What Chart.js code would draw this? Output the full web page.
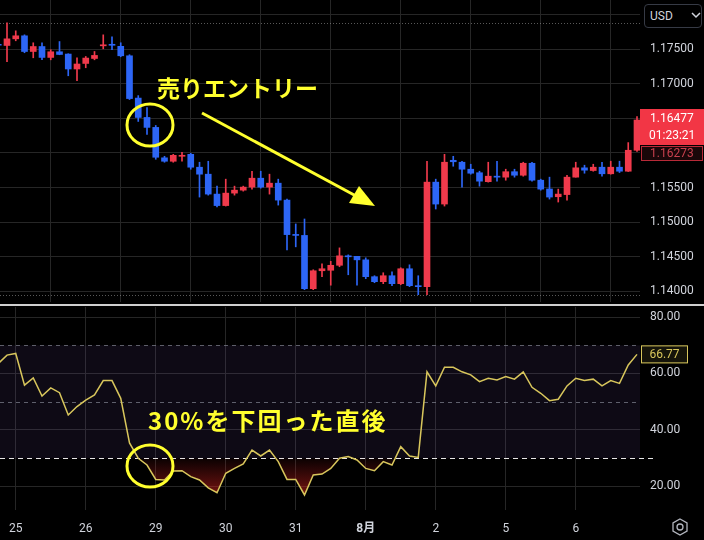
<!DOCTYPE html>
<html>
<head>
<meta charset="utf-8">
<script src="https://cdn.jsdelivr.net/npm/chart.js@4.4.0/dist/chart.umd.min.js"></script>
<style>
html,body{margin:0;padding:0;background:#000;width:704px;height:540px;overflow:hidden}
#wrap{position:relative;width:704px;height:540px;background:#000}
#pc{position:absolute;left:0;top:0}
#rc{position:absolute;left:0;top:307px}
#sep{position:absolute;left:0;top:304px;width:704px;height:2px;background:#cfcfcf}
.note{position:absolute;color:#ffff2e;font-family:"Noto Sans CJK JP";font-weight:bold;white-space:nowrap}
#usd{position:absolute;left:644px;top:4px;width:58px;height:24px;box-sizing:border-box;border:1px solid #363a45;border-radius:4px;background:#000;
  color:#d1d4dc;font:12px Roboto,"Noto Sans",sans-serif;line-height:22px;padding-left:5px}
#ov{position:absolute;left:0;top:0;pointer-events:none}
</style>
</head>
<body>
<div id="wrap">
  <canvas id="pc" width="704" height="302"></canvas>
  <div id="sep"></div>
  <canvas id="rc" width="704" height="233"></canvas>
  <div id="usd">USD</div>
  <div class="note" style="left:157px;top:76px;font-size:23px;line-height:23px">売りエントリー</div>
  <div class="note" style="left:148px;top:408px;font-size:24px;line-height:24px;letter-spacing:2px">30%を下回った直後</div>
  <svg id="ov" width="704" height="540">
    <ellipse cx="150" cy="125" rx="23" ry="21" fill="none" stroke="#ffff2e" stroke-width="3"/>
    <ellipse cx="150" cy="466" rx="23" ry="21" fill="none" stroke="#ffff2e" stroke-width="3"/>
    <line x1="202" y1="113" x2="356" y2="196" stroke="#ffff2e" stroke-width="3"/>
    <polygon points="375,206 349,203 359,186" fill="#ffff2e"/>
    <path d="M692 13 l4 4 l4 -4" fill="none" stroke="#d1d4dc" stroke-width="1.5"/>
    <polygon points="680,519 687,523 687,531 680,535 673,531 673,523" fill="none" stroke="#b2b5be" stroke-width="1.3"/>
    <circle cx="680" cy="527" r="3" fill="none" stroke="#b2b5be" stroke-width="1.3"/>
  </svg>
</div>
<script>
/* EUR/USD 3h candles + RSI */

// day boundaries (bar x index) and their labels
var dayStart=[1,9,17,25,33,41,49,57,65];
var dayLabels=['25','26','29','30','31','8月','2','5','6'];

// first entry is the half-visible bar on the left edge (x = -1)
var openP=[1.17572,
  1.17555,1.17651,1.17695,1.17468,1.17540,1.17382,1.17464,1.17431,1.17215,1.17295,
  1.17367,1.17550,1.17572,1.17543,1.17406,1.16794,1.16514,1.16370,1.15930,1.15880,
  1.15952,1.15980,1.15794,1.15693,1.15405,1.15239,1.15419,1.15462,1.15506,1.15635,
  1.15506,1.15563,1.15318,1.14822,1.14807,1.14037,1.14296,1.14303,1.14375,1.14512,
  1.14505,1.14454,1.14210,1.14138,1.14224,1.14109,1.14325,1.14080,1.14066,1.15578,
  1.15261,1.15894,1.15866,1.15765,1.15714,1.15585,1.15664,1.15650,1.15729,1.15678,
  1.15851,1.15606,1.15479,1.15367,1.15398,1.15650,1.15785,1.15746,1.15794,1.15699,
  1.15794,1.15736,1.16039];
var highP=[1.17600,
  1.17882,1.17767,1.17709,1.17594,1.17594,1.17493,1.17612,1.17435,1.17377,1.17396,
  1.17468,1.17709,1.17680,1.17594,1.17421,1.16830,1.16658,1.16398,1.15952,1.15980,
  1.16010,1.15995,1.15866,1.15880,1.15520,1.15621,1.15520,1.15520,1.15736,1.15736,
  1.15693,1.15621,1.15333,1.14973,1.15045,1.14310,1.14397,1.14433,1.14627,1.14526,
  1.14505,1.14483,1.14224,1.14267,1.14282,1.14339,1.14382,1.14224,1.15880,1.15621,
  1.15980,1.15952,1.15880,1.15837,1.15736,1.15866,1.15880,1.15765,1.15765,1.15866,
  1.15866,1.15621,1.15650,1.15477,1.15678,1.15866,1.15823,1.15837,1.15866,1.15881,
  1.15881,1.16150,1.16526];
var lowP=[1.17530,
  1.17320,1.17623,1.17450,1.17377,1.17348,1.17348,1.17421,1.17117,1.17046,1.17233,
  1.17348,1.17507,1.17493,1.17392,1.16773,1.16456,1.16269,1.15909,1.15866,1.15866,
  1.15880,1.15765,1.15362,1.15390,1.15218,1.15232,1.15390,1.15448,1.15477,1.15491,
  1.15405,1.15246,1.14598,1.14642,1.14022,1.14022,1.14210,1.14087,1.14354,1.14238,
  1.14087,1.14181,1.14123,1.14109,1.14080,1.14094,1.14066,1.13950,1.13950,1.15189,
  1.15232,1.15808,1.15506,1.15693,1.15520,1.15578,1.15592,1.15606,1.15650,1.15664,
  1.15592,1.15462,1.15333,1.15290,1.15318,1.15650,1.15707,1.15736,1.15664,1.15693,
  1.15717,1.15732,1.16021];
var closeP=[1.17558,
  1.17651,1.17695,1.17468,1.17540,1.17382,1.17464,1.17425,1.17215,1.17287,1.17373,
  1.17411,1.17565,1.17558,1.17406,1.16787,1.16514,1.16370,1.15938,1.15880,1.15966,
  1.15966,1.15794,1.15693,1.15405,1.15239,1.15419,1.15462,1.15506,1.15635,1.15506,
  1.15563,1.15318,1.14819,1.14807,1.14037,1.14296,1.14325,1.14375,1.14512,1.14498,
  1.14454,1.14210,1.14138,1.14224,1.14109,1.14325,1.14080,1.14066,1.15578,1.15261,
  1.15866,1.15873,1.15765,1.15707,1.15592,1.15664,1.15650,1.15729,1.15678,1.15851,
  1.15606,1.15477,1.15362,1.15405,1.15650,1.15785,1.15751,1.15794,1.15699,1.15794,
  1.15736,1.16039,1.16477];

var rsiVals=[63.5,
  66.5,67.1,55.9,58.4,52.0,54.9,53.2,45.3,48.3,50.6,
  52.4,57.5,57.5,51.2,35.4,30.0,27.6,22.5,22.3,25.5,
  25.6,23.5,22.3,19.5,17.8,24.7,26.4,28.0,32.9,30.8,
  32.9,28.8,22.5,22.5,17.0,24.1,24.4,26.4,30.0,30.6,
  29.4,26.4,25.6,28.8,27.6,34.1,30.8,30.3,60.6,55.6,
  62.2,62.2,60.6,59.5,57.1,58.3,57.7,58.9,58.0,60.6,
  55.1,53.0,50.4,50.9,55.6,58.3,57.5,58.0,55.6,57.5,
  56.5,63.0,66.77];

var priceTicks=[1.14,1.145,1.15,1.155,1.16,1.165,1.17,1.175,1.18];
var rsiTicks=[20,40,60,80];
var rsiLevels=[70,50,30];
var countdown='01:23:21';
var prevPrice=1.16273;

var UP='#f03a4c',DOWN='#2d66f6',RSI_COL='#d8c65c';
var GRID='#262626',TXT='#d1d4dc';
var FONT='Roboto, "Noto Sans CJK JP", sans-serif';

var wickData=[],bodyData=[],barCols=[],rsiData=[];
for(var i=0;i<openP.length;i++){
  wickData.push({x:i-1,y:[lowP[i],highP[i]]});
  bodyData.push({x:i-1,y:[openP[i],closeP[i]]});
  barCols.push(closeP[i]>=openP[i]?UP:DOWN);
  rsiData.push({x:i-1,y:rsiVals[i]});
}

// drop the label padding chart.js reserves so the panes fill the canvas
function noPad(s){s.paddingTop=0;s.paddingBottom=0;s.paddingLeft=0;s.paddingRight=0}

function xScale(showTicks){
  return {
    type:'linear',min:-0.8,max:72.343,offset:false,
    afterBuildTicks:function(s){s.ticks=dayStart.map(function(v){return{value:v}})},
    ticks:{display:showTicks,autoSkip:false,maxRotation:0,color:TXT,padding:12,
      font:function(c){return{family:FONT,size:12,weight:(c.tick&&c.tick.label==='8月')?'bold':'normal'}},
      callback:function(v){var k=dayStart.indexOf(v);return k<0?'':dayLabels[k]}},
    grid:{color:GRID,drawTicks:false},
    border:{display:false},
    afterFit:function(s){s.height=showTicks?30:0;noPad(s)}
  };
}

function yScale(min,max,ticks,fmt){
  return {
    position:'right',min:min,max:max,
    afterBuildTicks:function(s){s.ticks=ticks.map(function(v){return{value:v}})},
    ticks:{color:TXT,padding:10,font:{family:FONT,size:12},callback:fmt},
    grid:{color:GRID,drawTicks:false},
    border:{display:false},
    afterFit:function(s){s.width=64;noPad(s)}
  };
}

/* price panel extras: range lines + last price labels */
var pricePlugin={
  id:'priceExtras',
  beforeDatasetsDraw:function(ch){
    var c=ch.ctx,a=ch.chartArea,y=ch.scales.y;
    var hi=Math.max.apply(null,highP),lo=Math.min.apply(null,lowP);
    c.save();
    c.strokeStyle='rgba(160,160,160,0.55)';c.lineWidth=1;c.setLineDash([1,2]);
    [hi,lo].forEach(function(v){
      var py=Math.round(y.getPixelForValue(v))+0.5;
      c.beginPath();c.moveTo(a.left,py);c.lineTo(a.right,py);c.stroke();
    });
    c.restore();
  },
  afterDraw:function(ch){
    var c=ch.ctx,a=ch.chartArea,y=ch.scales.y;
    var last=closeP[closeP.length-1];
    var py=y.getPixelForValue(last);
    c.save();
    c.fillStyle='#f23645';
    c.fillRect(a.right,py-11,64,36);
    c.fillStyle='#ffffff';c.font='12px '+FONT;c.textBaseline='middle';c.textAlign='left';
    c.fillText(last.toFixed(5),a.right+10,py-1);
    c.fillText(countdown,a.right+9,py+16);
    c.fillStyle='#1a0709';
    c.fillRect(a.right+1,py+26,62,15);
    c.strokeStyle='#b82a38';c.lineWidth=1;
    c.strokeRect(a.right+1.5,py+26.5,61,14);
    c.fillStyle='#c8404e';
    c.fillText(prevPrice.toFixed(5),a.right+10,py+34);
    c.restore();
  }
};

new Chart(document.getElementById('pc').getContext('2d'),{
  type:'bar',
  data:{datasets:[
    {data:wickData,backgroundColor:barCols,barThickness:1,grouped:false,order:2,borderWidth:0},
    {data:bodyData,backgroundColor:barCols,barThickness:6,grouped:false,order:1,borderWidth:0,minBarLength:1}
  ]},
  options:{
    responsive:false,animation:false,events:[],
    layout:{padding:0},
    plugins:{legend:{display:false},tooltip:{enabled:false}},
    scales:{
      x:xScale(false),
      y:yScale(1.13844,1.18213,priceTicks,function(v){return v>1.1799?'':v.toFixed(5)})
    }
  },
  plugins:[pricePlugin]
});

/* rsi panel extras: 70-30 band, level lines, value label */
var rsiPlugin={
  id:'rsiExtras',
  beforeDatasetsDraw:function(ch){
    var c=ch.ctx,a=ch.chartArea,y=ch.scales.y;
    var y70=y.getPixelForValue(rsiLevels[0]),y30=y.getPixelForValue(rsiLevels[2]);
    c.save();
    c.fillStyle='rgba(126,87,194,0.11)';
    c.fillRect(a.left,y70,a.right-a.left,y30-y70);
    c.lineWidth=1;
    rsiLevels.forEach(function(v,k){
      var py=Math.round(y.getPixelForValue(v))+0.5;
      c.setLineDash(k===2?[5,4]:[4,4]);
      c.strokeStyle=k===2?'#e8e8e8':'rgba(130,133,145,0.7)';
      c.beginPath();c.moveTo(a.left,py);c.lineTo(k===2?a.right+17:a.right,py);c.stroke();
    });
    c.restore();
  },
  afterDraw:function(ch){
    var c=ch.ctx,a=ch.chartArea,y=ch.scales.y;
    var last=rsiVals[rsiVals.length-1];
    var py=y.getPixelForValue(last);
    c.save();
    c.fillStyle='#15140a';
    c.fillRect(a.right+1,py-9,46,18);
    c.strokeStyle=RSI_COL;c.lineWidth=1;
    c.strokeRect(a.right+1.5,py-8.5,46,17);
    c.fillStyle=RSI_COL;c.font='12px '+FONT;c.textBaseline='middle';c.textAlign='center';
    c.fillText(last.toFixed(2),a.right+24.5,py+0.5);
    c.restore();
  }
};

new Chart(document.getElementById('rc').getContext('2d'),{
  type:'line',
  data:{datasets:[{
    data:rsiData,borderColor:RSI_COL,borderWidth:1.5,pointRadius:0,tension:0,
    fill:{target:{value:30},above:'rgba(0,0,0,0)'},
    backgroundColor:function(ctx){
      var ch=ctx.chart;
      if(!ch.chartArea||!ch.scales.y)return 'rgba(0,0,0,0)';
      var y=ch.scales.y;
      var g=ch.ctx.createLinearGradient(0,y.getPixelForValue(30),0,y.getPixelForValue(12));
      g.addColorStop(0,'rgba(200,30,30,0.05)');
      g.addColorStop(1,'rgba(220,40,30,0.75)');
      return g;
    }
  }]},
  options:{
    responsive:false,animation:false,events:[],
    layout:{padding:0},
    plugins:{legend:{display:false},tooltip:{enabled:false}},
    scales:{
      x:xScale(true),
      y:yScale(11.68,83.54,rsiTicks,function(v){return v.toFixed(2)})
    }
  },
  plugins:[rsiPlugin]
});
</script>
</body>
</html>
